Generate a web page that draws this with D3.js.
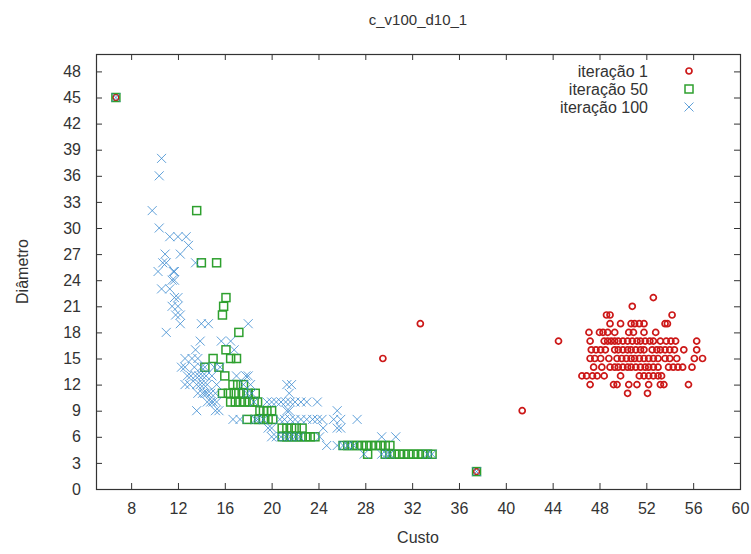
<!DOCTYPE html>
<html>
<head>
<meta charset="utf-8">
<script src="https://cdn.jsdelivr.net/npm/d3@7"></script>
<style>
  body { margin: 0; background: #fff; }
  text { font-family: "Liberation Sans", Arial, sans-serif; fill: #333; }
</style>
</head>
<body>
<div id="chart"></div>
<script>
// Series values: [custo, diametro]
var iter1 = [
  [6.7,45],[37.5,2],[29.5,15],[32.7,19],[41.4,9],[44.5,17],
  [52.6,22],[50.8,21],[48.6,20],[48.9,20],[54.2,20],
  [48.9,19],[49.8,19],[50.7,19],[51.0,19],[51.4,19],[51.8,19],[53.6,19],[53.8,19],
  [47.1,18],[48.0,18],[48.3,18],[48.7,18],[49.3,18],[50.5,18],[50.9,18],[51.8,18],[52.8,18],
  [47.2,17],[48.4,17],[48.7,17],[49.0,17],[49.3,17],[49.6,17],[50.0,17],[50.4,17],[50.8,17],[51.2,17],
  [51.5,17],[51.9,17],[52.3,17],[52.6,17],[53.2,17],[53.7,17],[54.1,17],[54.5,17],[56.3,17],
  [47.3,16],[47.7,16],[48.1,16],[48.5,16],[49.3,16],[49.6,16],[50.0,16],[50.4,16],[50.7,16],[51.1,16],
  [51.5,16],[51.8,16],[52.5,16],[52.9,16],[53.2,16],[53.6,16],[54.0,16],[54.4,16],[55.2,16],[56.3,16],
  [47.2,15],[47.6,15],[48.1,15],[48.8,15],[49.5,15],[49.9,15],[50.3,15],[50.7,15],[51.0,15],[51.4,15],
  [51.8,15],[52.2,15],[52.6,15],[53.0,15],[53.6,15],[54.0,15],[54.6,15],[56.1,15],[56.8,15],
  [47.5,14],[48.2,14],[48.9,14],[49.3,14],[49.6,14],[50.0,14],[50.4,14],[50.7,14],[51.1,14],[51.5,14],
  [51.9,14],[52.2,14],[52.6,14],[53.0,14],[53.9,14],[54.3,14],[54.7,14],[55.1,14],[55.9,14],
  [46.5,13],[46.9,13],[47.4,13],[47.8,13],[48.4,13],[49.8,13],[51.4,13],[51.8,13],[52.2,13],[52.6,13],[53.0,13],[53.3,13],
  [47.2,12],[49.2,12],[49.5,12],[50.5,12],[51.2,12],[52.2,12],[53.2,12],[53.5,12],[55.6,12],
  [50.4,11],[52.1,11]
];

var iter50 = [
  [6.7,45],[37.5,2],[13.6,32],[14.0,26],[15.3,26],[16.1,22],[15.9,21],[15.8,20],[17.2,18],[16.1,16],
  [15.0,15],[16.5,15],[17.0,15],[14.3,14],[15.5,14],[16.0,13],[16.7,12],[17.1,12],[17.6,12],
  [15.8,11],[16.3,11],[16.8,11],[17.2,11],[17.6,11],[18.0,11],[18.6,11],
  [16.5,10],[16.9,10],[17.3,10],[17.7,10],[18.1,10],[18.5,10],[18.8,10],
  [19.0,9],[19.3,9],[19.6,9],[20.0,9],
  [17.9,8],[18.6,8],[18.9,8],[19.3,8],[19.7,8],[20.1,8],
  [20.9,7],[21.3,7],[21.7,7],[22.1,7],[22.6,7],
  [20.9,6],[21.3,6],[21.7,6],[22.1,6],[22.5,6],[22.9,6],[23.3,6],[23.7,6],
  [26.1,5],[26.5,5],[26.9,5],[27.3,5],[27.7,5],[28.1,5],[28.5,5],[28.9,5],[29.3,5],[29.7,5],[30.1,5],
  [28.2,4],[29.7,4],[30.1,4],[30.5,4],[30.9,4],[31.3,4],[31.7,4],[32.1,4],[32.5,4],[32.9,4],[33.3,4],[33.7,4]
];

var iter100 = [
  [6.7,45],[37.5,2],[10.6,38],[10.4,36],[9.8,32],[10.4,30],[11.3,29],[12.0,29],[12.7,29],[12.9,28],
  [10.9,27],[12.2,27],[10.7,26],[11.0,26],[13.5,26],[10.3,25],[11.6,25],[11.7,25],[11.5,24],[11.7,24],
  [10.6,23],[11.3,23],[11.7,22],[12.0,22],[11.5,21],[12.0,21],[11.8,20],[12.2,20],
  [12.2,19],[14.0,19],[14.6,19],[18.0,19],[11.0,18],[13.9,17],[15.7,17],[16.5,17],[13.5,16],[16.8,16],
  [12.6,15],[13.2,15],[13.7,15],
  [12.3,14],[12.6,14],[13.4,14],[14.0,14],[14.3,14],[15.1,14],[15.6,14],
  [12.8,13],[13.1,13],[13.5,13],[13.8,13],[14.1,13],[14.4,13],[14.9,13],[17.0,13],[17.8,13],[18.0,13],
  [12.6,12],[13.0,12],[13.6,12],[13.9,12],[14.2,12],[14.5,12],[15.3,12],[17.6,12],[18.2,12],[21.3,12],[21.7,12],
  [13.7,11],[14.1,11],[14.3,11],[14.5,11],[14.8,11],[15.2,11],[17.9,11],[18.3,11],[21.5,11],
  [14.5,10],[14.8,10],[15.0,10],[15.3,10],[18.5,10],[19.6,10],[20.0,10],[20.4,10],[20.8,10],[21.2,10],[21.6,10],
  [22.0,10],[22.5,10],[23.0,10],[23.9,10],
  [13.6,9],[15.2,9],[15.5,9],[21.3,9],[21.5,9],[25.6,9],
  [16.7,8],[17.3,8],[18.6,8],[18.8,8],[19.3,8],[20.7,8],[21.1,8],[21.6,8],[22.0,8],[22.5,8],[23.0,8],
  [23.5,8],[23.9,8],[24.3,8],[25.3,8],[25.9,8],[27.3,8],
  [19.7,7],[20.0,7],[24.4,7],[25.6,7],[25.9,7],
  [20.0,6],[20.4,6],[20.8,6],[21.2,6],[21.6,6],[22.0,6],[22.4,6],[24.1,6],[29.4,6],[30.6,6],
  [24.7,5],[25.6,5],[26.1,5],[26.5,5],[27.0,5],
  [27.9,4],[29.4,4],[29.8,4],[30.1,4],[33.3,4],[33.7,4]
];

var xTicks = [8,12,16,20,24,28,32,36,40,44,48,52,56,60];
var yTicks = [0,3,6,9,12,15,18,21,24,27,30,33,36,39,42,45,48];
var seriesNames = ["iteração 1", "iteração 50", "iteração 100"];

var W = 751, H = 554;
var margin = {top: 54, right: 11, bottom: 65, left: 96};
var width = W - margin.left - margin.right,
    height = H - margin.top - margin.bottom;

var svg = d3.select("#chart").append("svg")
    .attr("width", W)
    .attr("height", H);

var g = svg.append("g")
    .attr("transform", "translate(" + margin.left + "," + margin.top + ")");

var xScale = d3.scaleLinear().domain([5, 60]).range([0, width]);
var yScale = d3.scaleLinear().domain([0, 50]).range([height, 0]);

var frameColor = "#333";

// axes with inward ticks, mirrored on top and right
var xAxis = d3.axisBottom(xScale).tickValues(xTicks).tickSizeInner(-6).tickSizeOuter(0).tickPadding(14);
var yAxis = d3.axisLeft(yScale).tickValues(yTicks).tickSizeInner(-6).tickSizeOuter(0).tickPadding(15);
var xTop = d3.axisTop(xScale).tickValues(xTicks).tickSizeInner(-6).tickSizeOuter(0).tickFormat("");
var yRight = d3.axisRight(yScale).tickValues(yTicks).tickSizeInner(-6).tickSizeOuter(0).tickFormat("");

function styleAxis(sel) {
  sel.select(".domain").remove();
  sel.selectAll("line").attr("stroke", frameColor);
  sel.selectAll("text").style("font-size", "16px").attr("fill", "#333")
    .style("font-family", "'Liberation Sans', Arial, sans-serif");
}

g.append("g").attr("transform", "translate(0," + height + ")").call(xAxis).call(styleAxis);
g.append("g").call(yAxis).call(styleAxis);
g.append("g").call(xTop).call(styleAxis);
g.append("g").attr("transform", "translate(" + width + ",0)").call(yRight).call(styleAxis);

g.append("rect")
    .attr("x", 0.5).attr("y", 0.5)
    .attr("width", width).attr("height", height)
    .attr("fill", "none")
    .attr("stroke", frameColor)
    .attr("stroke-width", 1.2);

var colors = ["#cc1818", "#2ea02e", "#3a8ad0"];

function drawCircle(sel, color) {
  sel.append("circle").attr("r", 3)
    .attr("fill", "none").attr("stroke", color).attr("stroke-width", 1.7);
}
function drawSquare(sel, color) {
  sel.append("rect").attr("x", -4).attr("y", -4).attr("width", 8).attr("height", 8)
    .attr("fill", "none").attr("stroke", color).attr("stroke-width", 1.5);
}
function drawCross(sel, color) {
  sel.append("path").attr("d", "M-4.5,-4.5L4.5,4.5M-4.5,4.5L4.5,-4.5")
    .attr("fill", "none").attr("stroke", color).attr("stroke-width", 1).attr("stroke-opacity", 0.8);
}
var drawers = [drawCircle, drawSquare, drawCross];
var allSeries = [iter1, iter50, iter100];

allSeries.forEach(function(data, i) {
  g.append("g").selectAll("g")
    .data(data)
    .enter().append("g")
    .attr("transform", function(d) { return "translate(" + xScale(d[0]) + "," + yScale(d[1]) + ")"; })
    .each(function() { drawers[i](d3.select(this), colors[i]); });
});

// legend
var legend = g.append("g");
seriesNames.forEach(function(name, i) {
  var yy = 17 + i * 18;
  legend.append("text")
    .attr("x", 552).attr("y", yy).attr("dy", "0.35em")
    .style("text-anchor", "end")
    .style("font-size", "16px")
    .text(name);
  var m = legend.append("g").attr("transform", "translate(593," + yy + ")");
  drawers[i](m, colors[i]);
});

// title and axis labels
svg.append("text")
    .attr("x", margin.left + width / 2).attr("y", 25)
    .style("text-anchor", "middle")
    .style("font-size", "15px")
    .text("c_v100_d10_1");

svg.append("text")
    .attr("x", margin.left + width / 2).attr("y", 543)
    .style("text-anchor", "middle")
    .style("font-size", "16px")
    .text("Custo");

svg.append("text")
    .attr("transform", "translate(28," + (margin.top + height / 2) + ") rotate(-90)")
    .style("text-anchor", "middle")
    .style("font-size", "16px")
    .text("Diâmetro");
</script>
</body>
</html>
